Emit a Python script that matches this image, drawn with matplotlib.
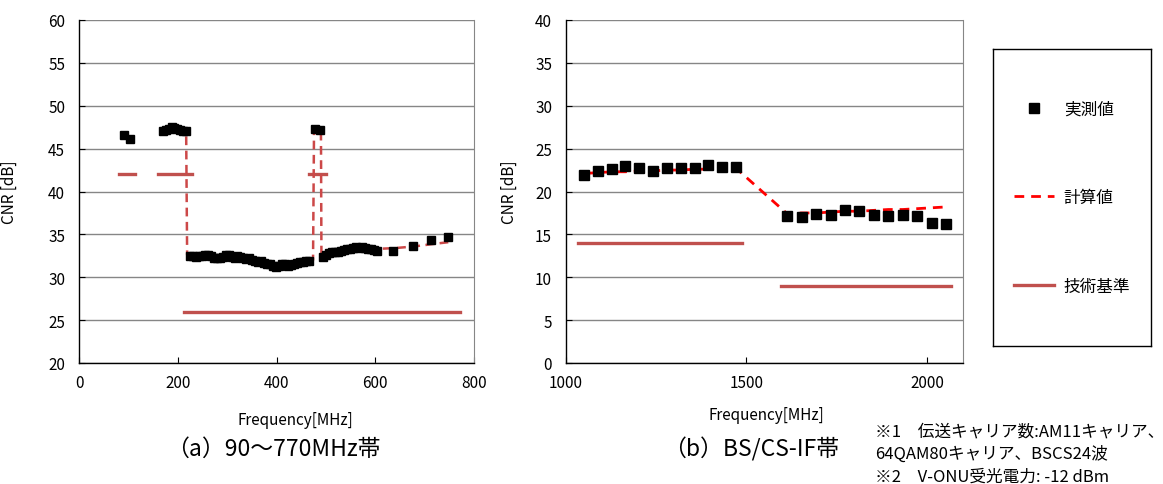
import numpy as np
import matplotlib
matplotlib.use("Agg")
import matplotlib.pyplot as plt
from matplotlib.lines import Line2D

plt.rcParams['font.family'] = ['Noto Sans CJK JP', 'DejaVu Sans']

# ---- (a) 90-770 MHz : measured CNR ----
am_freq = [91, 103, 171, 177, 183, 189, 193, 199, 205, 211, 217, 477, 489]
am_cnr = [46.6, 46.1, 47.1, 47.2, 47.3, 47.5, 47.4, 47.3, 47.2, 47.1, 47.1, 47.3, 47.2]

qam_freq = [225, 231, 237, 243, 249, 255, 261, 267, 273, 279, 285, 291, 297, 303,
            309, 315, 321, 327, 333, 339, 345, 351, 357, 363, 369, 375, 381, 387,
            393, 399, 405, 411, 417, 423, 429, 435, 441, 447, 453, 459, 465,
            495, 501, 507, 513, 519, 525, 531, 537, 543, 549, 555, 561, 567, 573,
            579, 585, 591, 597, 603, 636, 676, 712, 748]
qam_cnr = [32.5, 32.5, 32.4, 32.5, 32.5, 32.6, 32.6, 32.5, 32.3, 32.2, 32.3, 32.4, 32.6, 32.6,
           32.4, 32.3, 32.5, 32.4, 32.2, 32.1, 32.2, 32.0, 31.9, 31.8, 31.9, 31.7, 31.6, 31.5,
           31.3, 31.2, 31.3, 31.6, 31.5, 31.3, 31.4, 31.6, 31.7, 31.8, 31.8, 31.9, 31.9,
           32.4, 32.6, 32.8, 32.9, 32.9, 33.0, 33.1, 33.2, 33.3, 33.3, 33.4, 33.5, 33.4, 33.5,
           33.4, 33.3, 33.3, 33.2, 33.1, 33.1, 33.7, 34.4, 34.7]

# calculated values (a)
calc_a_freq = [91, 103, np.nan, 171, 217, 219, 240, 280, 320, 360, 400, 440, 474,
               476, 490, 491, 520, 560, 600, 640, 680, 720, 750]
calc_a_cnr = [46.8, 46.3, np.nan, 47.1, 47.1, 32.6, 32.6, 32.5, 32.4, 32.0, 31.5, 31.7, 32.0,
              47.2, 47.2, 32.6, 33.0, 33.3, 33.3, 33.4, 33.6, 33.9, 34.1]

# technical standard (a)
std_a_freq = [80, 113, np.nan, 159, 228, np.nan, 466, 500, np.nan, 213, 771]
std_a_cnr = [42, 42, np.nan, 42, 42, np.nan, 42, 42, np.nan, 26, 26]

# ---- (b) BS/CS-IF ----
bs_freq = [1049.48, 1087.84, 1126.20, 1164.56, 1202.92, 1241.28, 1279.64,
           1318.00, 1356.36, 1394.72, 1433.08, 1471.44]
bs_cnr = [21.9, 22.4, 22.6, 23.0, 22.7, 22.4, 22.7, 22.7, 22.7, 23.1, 22.9, 22.8]
cs_freq = [1613, 1653, 1693, 1733, 1773, 1813, 1853, 1893, 1933, 1973, 2013, 2053]
cs_cnr = [17.1, 17.0, 17.4, 17.3, 17.9, 17.7, 17.3, 17.2, 17.3, 17.1, 16.3, 16.2]

calc_bs = [22.1, 22.2, 22.3, 22.3, 22.4, 22.4, 22.5, 22.5, 22.6, 22.6, 22.7, 22.7]
calc_cs = [17.4, 17.5, 17.5, 17.6, 17.7, 17.7, 17.8, 17.9, 17.9, 18.0, 18.1, 18.2]

std_b_freq = [1033, 1488, np.nan, 1597, 2068]
std_b_cnr = [14, 14, np.nan, 9, 9]

STD_COLOR = '#C0504D'

fig = plt.figure(figsize=(11.63, 4.85), dpi=100)
ax1 = fig.add_axes([79 / 1163, 121 / 485, 395 / 1163, 343 / 485])
ax2 = fig.add_axes([566 / 1163, 121 / 485, 397 / 1163, 343 / 485])


def style_axes(ax, xlim, xticks, ylim, yticks):
    ax.set_xlim(*xlim)
    ax.set_ylim(*ylim)
    ax.set_xticks(xticks)
    ax.set_yticks(yticks)
    ax.grid(axis='y', color='#868686', lw=1.0)
    ax.set_axisbelow(True)
    for s in ['left', 'bottom']:
        ax.spines[s].set_color('black')
        ax.spines[s].set_linewidth(1.0)
    ax.spines['right'].set_color('#868686')
    ax.spines['top'].set_visible(False)
    ax.tick_params(direction='in', length=4, labelsize=11, pad=8)
    ax.tick_params(axis='y', pad=10)
    ax.set_ylabel('CNR [dB]', fontsize=11)
    ax.set_xlabel('Frequency[MHz]', fontsize=11)


# (a)
ax1.plot(std_a_freq, std_a_cnr, color=STD_COLOR, lw=2.4, zorder=2)
ax1.plot(calc_a_freq, calc_a_cnr, color='#CC4848', lw=1.8, ls=(0, (3.5, 2.2)), zorder=3)
ax1.plot(am_freq, am_cnr, 's', color='black', ms=6, zorder=4)
ax1.plot(qam_freq, qam_cnr, 's', color='black', ms=6, zorder=4)
style_axes(ax1, (0, 800), [0, 200, 400, 600, 800], (20, 60), range(20, 61, 5))
ax1.yaxis.set_label_coords(-0.154, 0.5)
ax1.xaxis.set_label_coords(0.549, -0.14)

# (b)
ax2.plot(std_b_freq, std_b_cnr, color=STD_COLOR, lw=2.4, zorder=2)
ax2.plot(bs_freq + cs_freq, calc_bs + calc_cs, color='red', lw=2.0, ls=(0, (3.5, 2.5)), zorder=3)
ax2.plot(bs_freq + cs_freq, bs_cnr + cs_cnr, 's', color='black', ms=6.5, zorder=4)
style_axes(ax2, (1000, 2100), [1000, 1500, 2000], (0, 40), range(0, 41, 5))
ax2.yaxis.set_label_coords(-0.121, 0.5)
ax2.xaxis.set_label_coords(0.504, -0.125)

# captions
fig.text(273 / 1163, 1 - 449 / 485, '（a）90～770MHz帯', fontsize=16.5, ha='center', va='center')
fig.text(751 / 1163, 1 - 449 / 485, '（b）BS/CS-IF帯', fontsize=16.5, ha='center', va='center')

# legend box
lax = fig.add_axes([993 / 1163, 138 / 485, 158 / 1163, 297 / 485])
lax.set_xticks([])
lax.set_yticks([])
for s in lax.spines.values():
    s.set_color('black')
    s.set_linewidth(1.0)
handles = [
    Line2D([], [], marker='s', color='black', ls='none', ms=6.5),
    Line2D([], [], color='red', lw=2.0, ls=(0, (3.5, 2.5))),
    Line2D([], [], color=STD_COLOR, lw=2.4),
]
lax.legend(handles, ['実測値', '計算値', '技術基準'], loc='center', frameon=False,
           fontsize=12, labelspacing=4.3, handlelength=2.4, handletextpad=0.6)

# notes
notes = ['※1　伝送キャリア数:AM11キャリア、',
         '64QAM80キャリア、BSCS24波',
         '※2　V-ONU受光電力: -12 dBm']
for i, t in enumerate(notes):
    fig.text(875 / 1163, 1 - (432 + 22.5 * i) / 485, t, fontsize=12, ha='left', va='center')

fig.savefig('out.png', dpi=100)
